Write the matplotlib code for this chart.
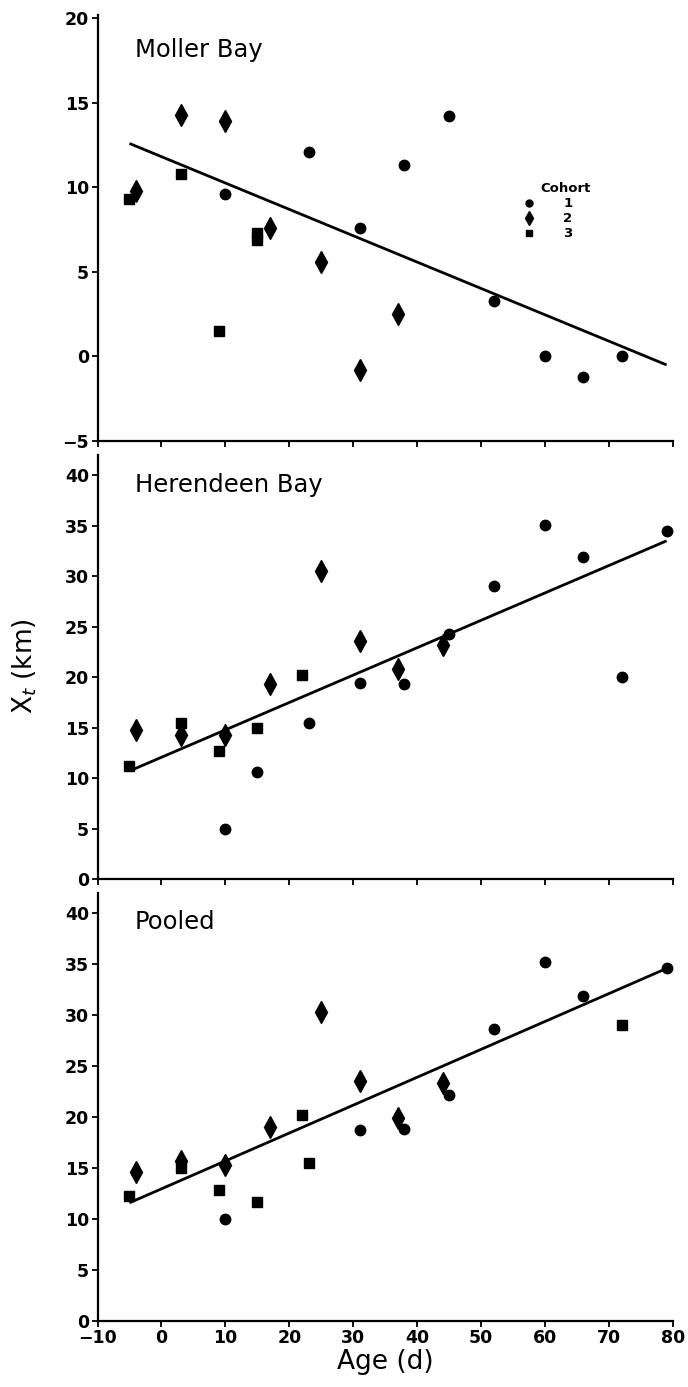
import matplotlib
matplotlib.use("Agg")
import matplotlib.pyplot as plt

plt.rcParams['font.family'] = ['DejaVu Sans']

# ---------------- data ----------------
# Moller Bay
mb_c1_x = [10, 23, 31, 38, 45, 52, 60, 66, 72]
mb_c1_y = [9.6, 12.1, 7.6, 11.3, 14.2, 3.3, 0.0, -1.2, 0.0]
mb_c2_x = [-4, 3, 10, 17, 25, 31, 37]
mb_c2_y = [9.8, 14.3, 13.9, 7.6, 5.6, -0.8, 2.5]
mb_c3_x = [-5, 3, 9, 15, 15]
mb_c3_y = [9.3, 10.8, 1.5, 7.3, 6.9]
mb_fit_x = [-5, 79]
mb_fit_y = [12.6, -0.5]

# Herendeen Bay
hb_c1_x = [10, 15, 23, 31, 38, 45, 52, 60, 66, 72, 79]
hb_c1_y = [5.0, 10.6, 15.5, 19.4, 19.3, 24.3, 29.0, 35.1, 31.9, 20.0, 34.5]
hb_c2_x = [-4, 3, 10, 17, 25, 31, 37, 44]
hb_c2_y = [14.8, 14.3, 14.3, 19.3, 30.5, 23.6, 20.8, 23.2]
hb_c3_x = [-5, 3, 9, 15, 22]
hb_c3_y = [11.2, 15.5, 12.7, 15.0, 20.2]
hb_fit_x = [-5, 79]
hb_fit_y = [10.7, 33.5]

# Pooled
pl_c1_x = [10, 31, 38, 45, 52, 60, 66, 79]
pl_c1_y = [10.0, 18.7, 18.8, 22.2, 28.7, 35.2, 31.9, 34.6]
pl_c2_x = [-4, 3, 10, 17, 25, 31, 37, 44]
pl_c2_y = [14.6, 15.7, 15.3, 19.0, 30.3, 23.6, 19.9, 23.4]
pl_c3_x = [-5, 3, 9, 15, 22, 23, 72]
pl_c3_y = [12.3, 15.0, 12.9, 11.7, 20.2, 15.5, 29.0]
pl_fit_x = [-5, 79]
pl_fit_y = [11.6, 34.6]

panel_names = ["Moller Bay", "Herendeen Bay", "Pooled"]
cohort_labels = ["1", "2", "3"]
x_ticks = [-10, 0, 10, 20, 30, 40, 50, 60, 70, 80]
top_yticks = [-5, 0, 5, 10, 15, 20]
low_yticks = [0, 5, 10, 15, 20, 25, 30, 35, 40]

panels = [
    (mb_c1_x, mb_c1_y, mb_c2_x, mb_c2_y, mb_c3_x, mb_c3_y, mb_fit_x, mb_fit_y),
    (hb_c1_x, hb_c1_y, hb_c2_x, hb_c2_y, hb_c3_x, hb_c3_y, hb_fit_x, hb_fit_y),
    (pl_c1_x, pl_c1_y, pl_c2_x, pl_c2_y, pl_c3_x, pl_c3_y, pl_fit_x, pl_fit_y),
]

# ---------------- figure ----------------
W, H = 688, 1387
fig = plt.figure(figsize=(W / 100, H / 100), dpi=100)

left = 97.5 / W
width = (673 - 97.5) / W
# (top_px, bottom_px, ylim)
geoms = [
    (15, 441, (-5, 20.2), top_yticks),
    (455, 879, (0, 42), low_yticks),
    (893, 1321, (0, 42), low_yticks),
]
title_y = [0.902, 0.913, 0.916]

axes = []
for i, ((tp, bp, ylim, yt), data) in enumerate(zip(geoms, panels)):
    ax = fig.add_axes([left, 1 - bp / H, width, (bp - tp) / H])
    axes.append(ax)
    c1x, c1y, c2x, c2y, c3x, c3y, fx, fy = data
    ax.plot(fx, fy, color='black', lw=2.0, solid_capstyle='butt', zorder=2)
    ax.plot(c1x, c1y, 'o', color='black', ms=7.5, ls='none', zorder=3)
    ax.plot(c2x, c2y, 'd', color='black', ms=11, ls='none', zorder=3)
    ax.plot(c3x, c3y, 's', color='black', ms=7, ls='none', zorder=3)

    ax.set_xlim(-10, 80)
    ax.set_ylim(*ylim)
    ax.set_xticks(x_ticks)
    ax.set_yticks(yt)
    for s in ['top', 'right']:
        ax.spines[s].set_visible(False)
    for s in ['left', 'bottom']:
        ax.spines[s].set_linewidth(1.6)
    ax.tick_params(axis='both', direction='out', width=1.3, length=4,
                   labelsize=12.5, pad=2)
    for lab in ax.get_yticklabels():
        lab.set_fontweight('bold')
    if i < 2:
        ax.tick_params(axis='x', labelbottom=False)
    else:
        for lab in ax.get_xticklabels():
            lab.set_fontweight('bold')
    ax.text(0.065, title_y[i], panel_names[i], transform=ax.transAxes,
            fontsize=17.5, ha='left', va='baseline')

# legend (top panel)
ax0 = axes[0]
ax0.text(0.814, 0.593, "Cohort", transform=ax0.transAxes, fontsize=9.5,
         fontweight='bold', ha='center', va='center')
leg_markers = ['o', 'd', 's']
leg_ms = [5, 7, 4.5]
leg_rows = [0.558, 0.523, 0.488]
for m, msz, yy, lab in zip(leg_markers, leg_ms, leg_rows, cohort_labels):
    ax0.plot([0.750], [yy], m, color='black', ms=msz, transform=ax0.transAxes,
             clip_on=False)
    ax0.text(0.817, yy, lab, transform=ax0.transAxes, fontsize=9.5,
             fontweight='bold', ha='center', va='center')

axes[2].set_xlabel("Age (d)", fontsize=19, labelpad=1)
fig.text(25 / W, 1 - 666 / H, "X$_t$ (km)", rotation=90, fontsize=19,
         ha='center', va='center')

fig.savefig("out.png", dpi=100)
